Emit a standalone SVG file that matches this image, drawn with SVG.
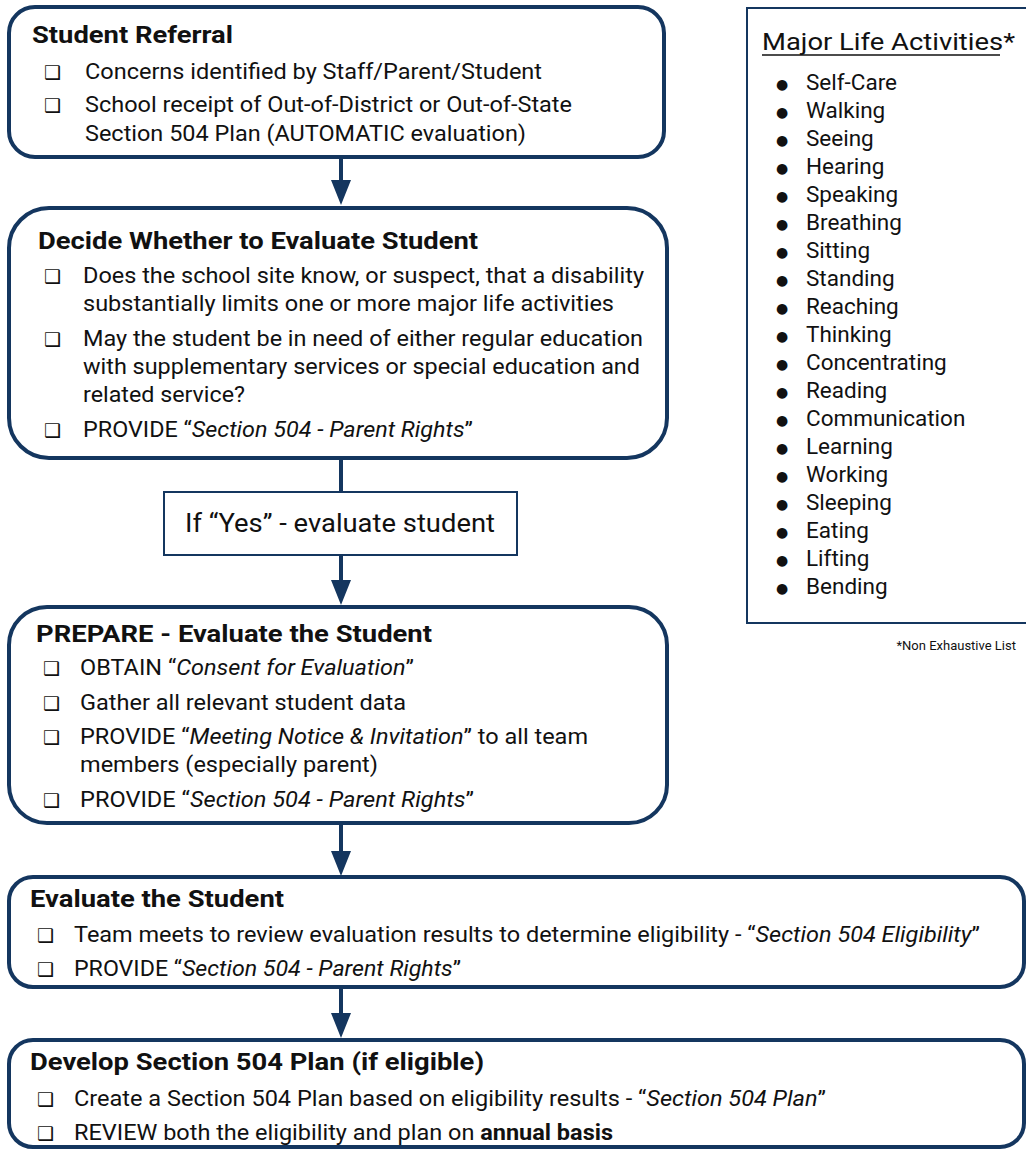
<svg xmlns="http://www.w3.org/2000/svg" width="1026" height="1150" viewBox="0 0 1026 1150">
<style>
.box{fill:#fff;stroke:#14365f;stroke-width:4}
.thin{fill:#fff;stroke:#14365f;stroke-width:2}
.t{font-family:Roboto,"Liberation Sans",sans-serif;font-size:24px;font-weight:bold;fill:#111}
.i{font-family:Roboto,"Liberation Sans",sans-serif;font-size:22px;fill:#111}
.cb{font-family:"DejaVu Sans",sans-serif;font-size:19px;fill:#111}
.em{font-style:italic}
.b{font-weight:bold}
.r{font-family:Roboto,"Liberation Sans",sans-serif;font-size:22.5px;fill:#111}
.bu{font-family:"DejaVu Sans",sans-serif;font-size:14px;fill:#111}
.line{stroke:#14365f;stroke-width:4;fill:none}
</style>
<g id="connectors">
<line class="line" x1="341" y1="157" x2="341" y2="180"/>
<path d="M331,180 L351,180 L341,205 Z" fill="#14365f"/>
<line class="line" x1="341" y1="458" x2="341" y2="492"/>
<line class="line" x1="341" y1="556" x2="341" y2="580"/>
<path d="M331,580 L351,580 L341,605 Z" fill="#14365f"/>
<line class="line" x1="341" y1="823" x2="341" y2="851"/>
<path d="M331,851 L351,851 L341,876 Z" fill="#14365f"/>
<line class="line" x1="341" y1="987" x2="341" y2="1013"/>
<path d="M331,1013 L351,1013 L341,1038 Z" fill="#14365f"/>
</g>
<g id="referral">
<rect class="box" x="9" y="7" width="655" height="150" rx="26"/>
<text class="t" x="32" y="43" textLength="201" lengthAdjust="spacingAndGlyphs">Student Referral</text>
<text class="cb" x="44" y="79">❑</text>
<text class="i" x="85" y="79" textLength="457" lengthAdjust="spacingAndGlyphs">Concerns identified by Staff/Parent/Student</text>
<text class="cb" x="44" y="112">❑</text>
<text class="i" x="85" y="112" textLength="487" lengthAdjust="spacingAndGlyphs">School receipt of Out-of-District or Out-of-State</text>
<text class="i" x="85" y="141" textLength="441" lengthAdjust="spacingAndGlyphs">Section 504 Plan (AUTOMATIC evaluation)</text>
</g>
<g id="decide">
<rect class="box" x="9" y="208" width="658" height="250" rx="40"/>
<text class="t" x="38" y="249" textLength="440" lengthAdjust="spacingAndGlyphs">Decide Whether to Evaluate Student</text>
<text class="cb" x="44" y="283">❑</text>
<text class="i" x="83" y="283" textLength="561" lengthAdjust="spacingAndGlyphs">Does the school site know, or suspect, that a disability</text>
<text class="i" x="83" y="311" textLength="531" lengthAdjust="spacingAndGlyphs">substantially limits one or more major life activities</text>
<text class="cb" x="44" y="346">❑</text>
<text class="i" x="83" y="346" textLength="560" lengthAdjust="spacingAndGlyphs">May the student be in need of either regular education</text>
<text class="i" x="83" y="374" textLength="557" lengthAdjust="spacingAndGlyphs">with supplementary services or special education and</text>
<text class="i" x="83" y="402" textLength="162" lengthAdjust="spacingAndGlyphs">related service?</text>
<text class="cb" x="44" y="437">❑</text>
<text class="i" x="83" y="437" textLength="390" lengthAdjust="spacingAndGlyphs">PROVIDE “<tspan class="em">Section 504 - Parent Rights</tspan>”</text>
</g>
<g id="ifyes">
<rect class="thin" x="164" y="492" width="353" height="63"/>
<text class="i" x="185" y="532" style="font-size:25px" textLength="310" lengthAdjust="spacingAndGlyphs">If “Yes” - evaluate student</text>
</g>
<g id="prepare">
<rect class="box" x="9" y="607" width="658" height="216" rx="38"/>
<text class="t" x="36" y="642" textLength="396" lengthAdjust="spacingAndGlyphs">PREPARE - Evaluate the Student</text>
<text class="cb" x="43" y="675">❑</text>
<text class="i" x="80" y="675" textLength="334" lengthAdjust="spacingAndGlyphs">OBTAIN “<tspan class="em">Consent for Evaluation</tspan>”</text>
<text class="cb" x="43" y="710">❑</text>
<text class="i" x="80" y="710" textLength="326" lengthAdjust="spacingAndGlyphs">Gather all relevant student data</text>
<text class="cb" x="43" y="744">❑</text>
<text class="i" x="80" y="744" textLength="508" lengthAdjust="spacingAndGlyphs">PROVIDE “<tspan class="em">Meeting Notice &amp; Invitation</tspan>” to all team</text>
<text class="i" x="80" y="772" textLength="298" lengthAdjust="spacingAndGlyphs">members (especially parent)</text>
<text class="cb" x="43" y="807">❑</text>
<text class="i" x="80" y="807" textLength="394" lengthAdjust="spacingAndGlyphs">PROVIDE “<tspan class="em">Section 504 - Parent Rights</tspan>”</text>
</g>
<g id="evaluate">
<rect class="box" x="9" y="877" width="1015" height="110" rx="24"/>
<text class="t" x="30" y="907" textLength="254" lengthAdjust="spacingAndGlyphs">Evaluate the Student</text>
<text class="cb" x="37" y="942">❑</text>
<text class="i" x="74" y="942" textLength="906" lengthAdjust="spacingAndGlyphs">Team meets to review evaluation results to determine eligibility - “<tspan class="em">Section 504 Eligibility</tspan>”</text>
<text class="cb" x="37" y="976">❑</text>
<text class="i" x="74" y="976" textLength="387" lengthAdjust="spacingAndGlyphs">PROVIDE “<tspan class="em">Section 504 - Parent Rights</tspan>”</text>
</g>
<g id="develop">
<rect class="box" x="9" y="1040" width="1015" height="107" rx="24"/>
<text class="t" x="30" y="1070" textLength="454" lengthAdjust="spacingAndGlyphs">Develop Section 504 Plan (if eligible)</text>
<text class="cb" x="37" y="1106">❑</text>
<text class="i" x="74" y="1106" textLength="752" lengthAdjust="spacingAndGlyphs">Create a Section 504 Plan based on eligibility results - “<tspan class="em">Section 504 Plan</tspan>”</text>
<text class="cb" x="37" y="1140">❑</text>
<text class="i" x="74" y="1140" textLength="539" lengthAdjust="spacingAndGlyphs">REVIEW both the eligibility and plan on <tspan class="b">annual basis</tspan></text>
</g>
<g id="activities">
<rect class="thin" x="747" y="8" width="290" height="615"/>
<text class="r" x="762" y="50" style="font-size:23px" textLength="253" lengthAdjust="spacingAndGlyphs">Major Life Activities*</text>
<line x1="762" y1="55" x2="1000" y2="55" stroke="#111" stroke-width="1.5"/>
<g class="bu">
<text x="776" y="89">●</text><text x="776" y="117">●</text><text x="776" y="145">●</text><text x="776" y="173">●</text><text x="776" y="201">●</text><text x="776" y="229">●</text><text x="776" y="257">●</text><text x="776" y="285">●</text><text x="776" y="313">●</text><text x="776" y="341">●</text><text x="776" y="369">●</text><text x="776" y="397">●</text><text x="776" y="425">●</text><text x="776" y="453">●</text><text x="776" y="481">●</text><text x="776" y="509">●</text><text x="776" y="537">●</text><text x="776" y="565">●</text><text x="776" y="593">●</text>
</g>
<g class="r">
<text x="806" y="90">Self-Care</text>
<text x="806" y="118">Walking</text>
<text x="806" y="146">Seeing</text>
<text x="806" y="174">Hearing</text>
<text x="806" y="202">Speaking</text>
<text x="806" y="230">Breathing</text>
<text x="806" y="258">Sitting</text>
<text x="806" y="286">Standing</text>
<text x="806" y="314">Reaching</text>
<text x="806" y="342">Thinking</text>
<text x="806" y="370">Concentrating</text>
<text x="806" y="398">Reading</text>
<text x="806" y="426">Communication</text>
<text x="806" y="454">Learning</text>
<text x="806" y="482">Working</text>
<text x="806" y="510">Sleeping</text>
<text x="806" y="538">Eating</text>
<text x="806" y="566">Lifting</text>
<text x="806" y="594">Bending</text>
</g>
<text x="1016" y="650" text-anchor="end" style="font-family:Roboto,'Liberation Sans',sans-serif;font-size:13px;fill:#111">*Non Exhaustive List</text>
</g>
</svg>
